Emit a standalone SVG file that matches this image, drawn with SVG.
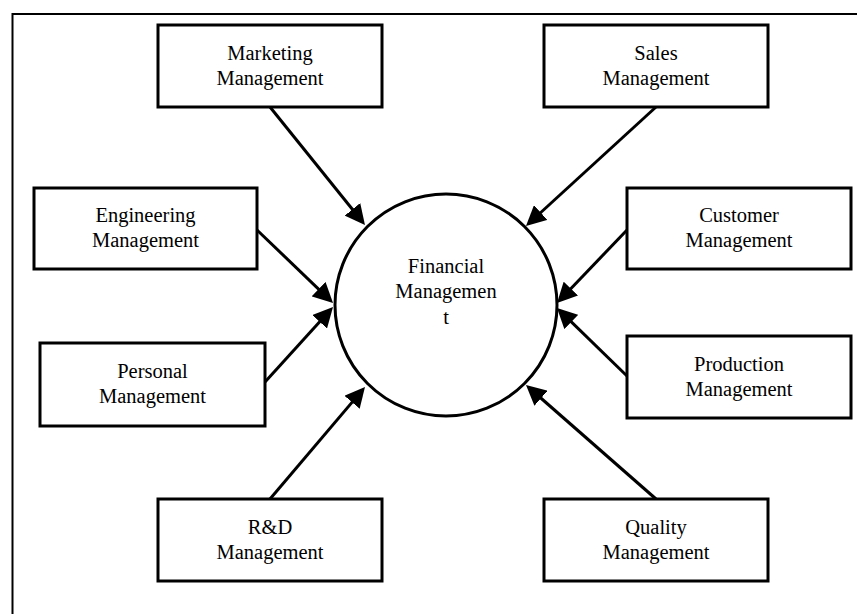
<svg xmlns="http://www.w3.org/2000/svg" width="857" height="614" viewBox="0 0 857 614">
  <style>
    .box { fill: #fff; stroke: #000; stroke-width: 3; }
    .hub { fill: #fff; stroke: #000; stroke-width: 3; }
    .lbl { font-size: 20.5px; fill: #000; text-anchor: middle; }
    .edge { stroke: #000; stroke-width: 3; fill: none; marker-end: url(#head); }
  </style>
  <defs>
    <marker id="head" markerUnits="userSpaceOnUse" markerWidth="20" markerHeight="20" refX="14" refY="10" orient="auto">
      <path d="M0,0 L20,10 L0,20 Z" fill="#000"/>
    </marker>
  </defs>
  <rect width="857" height="614" fill="#fff"/>
  <!-- page frame (runs off the right and bottom edges) -->
  <path d="M12.5,614 V14 H857" fill="none" stroke="#000" stroke-width="2"/>

  <g id="connectors">
    <line class="edge" x1="270" y1="107" x2="361.2" y2="220.3"/>
    <line class="edge" x1="656" y1="107" x2="530.4" y2="222"/>
    <line class="edge" x1="257" y1="230" x2="328.7" y2="298.8"/>
    <line class="edge" x1="627" y1="230" x2="561.2" y2="298.7"/>
    <line class="edge" x1="265" y1="382" x2="329" y2="311.4"/>
    <line class="edge" x1="627" y1="376" x2="561.3" y2="312.2"/>
    <line class="edge" x1="270" y1="499" x2="361.1" y2="391.6"/>
    <line class="edge" x1="656" y1="499" x2="530.5" y2="389"/>
  </g>

  <g font-family="'Liberation Serif', 'DejaVu Serif', serif">
  <g id="financial">
    <circle class="hub" cx="446" cy="305" r="111"/>
    <text class="lbl" x="446" y="273">Financial</text>
    <text class="lbl" x="446" y="298">Managemen</text>
    <text class="lbl" x="446" y="324">t</text>
  </g>

  <g id="marketing">
    <rect class="box" x="158" y="25" width="224" height="82"/>
    <text class="lbl" x="270" y="60">Marketing</text>
    <text class="lbl" x="270" y="85">Management</text>
  </g>

  <g id="sales">
    <rect class="box" x="544" y="25" width="224" height="82"/>
    <text class="lbl" x="656" y="60">Sales</text>
    <text class="lbl" x="656" y="85">Management</text>
  </g>

  <g id="engineering">
    <rect class="box" x="34" y="188" width="223" height="81"/>
    <text class="lbl" x="145.5" y="222">Engineering</text>
    <text class="lbl" x="145.5" y="247">Management</text>
  </g>

  <g id="customer">
    <rect class="box" x="627" y="188" width="224" height="81"/>
    <text class="lbl" x="739" y="222">Customer</text>
    <text class="lbl" x="739" y="247">Management</text>
  </g>

  <g id="personal">
    <rect class="box" x="40" y="343" width="225" height="83"/>
    <text class="lbl" x="152.5" y="378">Personal</text>
    <text class="lbl" x="152.5" y="403">Management</text>
  </g>

  <g id="production">
    <rect class="box" x="627" y="336" width="224" height="82"/>
    <text class="lbl" x="739" y="371">Production</text>
    <text class="lbl" x="739" y="396">Management</text>
  </g>

  <g id="rnd">
    <rect class="box" x="158" y="499" width="224" height="82"/>
    <text class="lbl" x="270" y="534">R&amp;D</text>
    <text class="lbl" x="270" y="559">Management</text>
  </g>

  <g id="quality">
    <rect class="box" x="544" y="499" width="224" height="82"/>
    <text class="lbl" x="656" y="534">Quality</text>
    <text class="lbl" x="656" y="559">Management</text>
  </g>
  </g>
</svg>
